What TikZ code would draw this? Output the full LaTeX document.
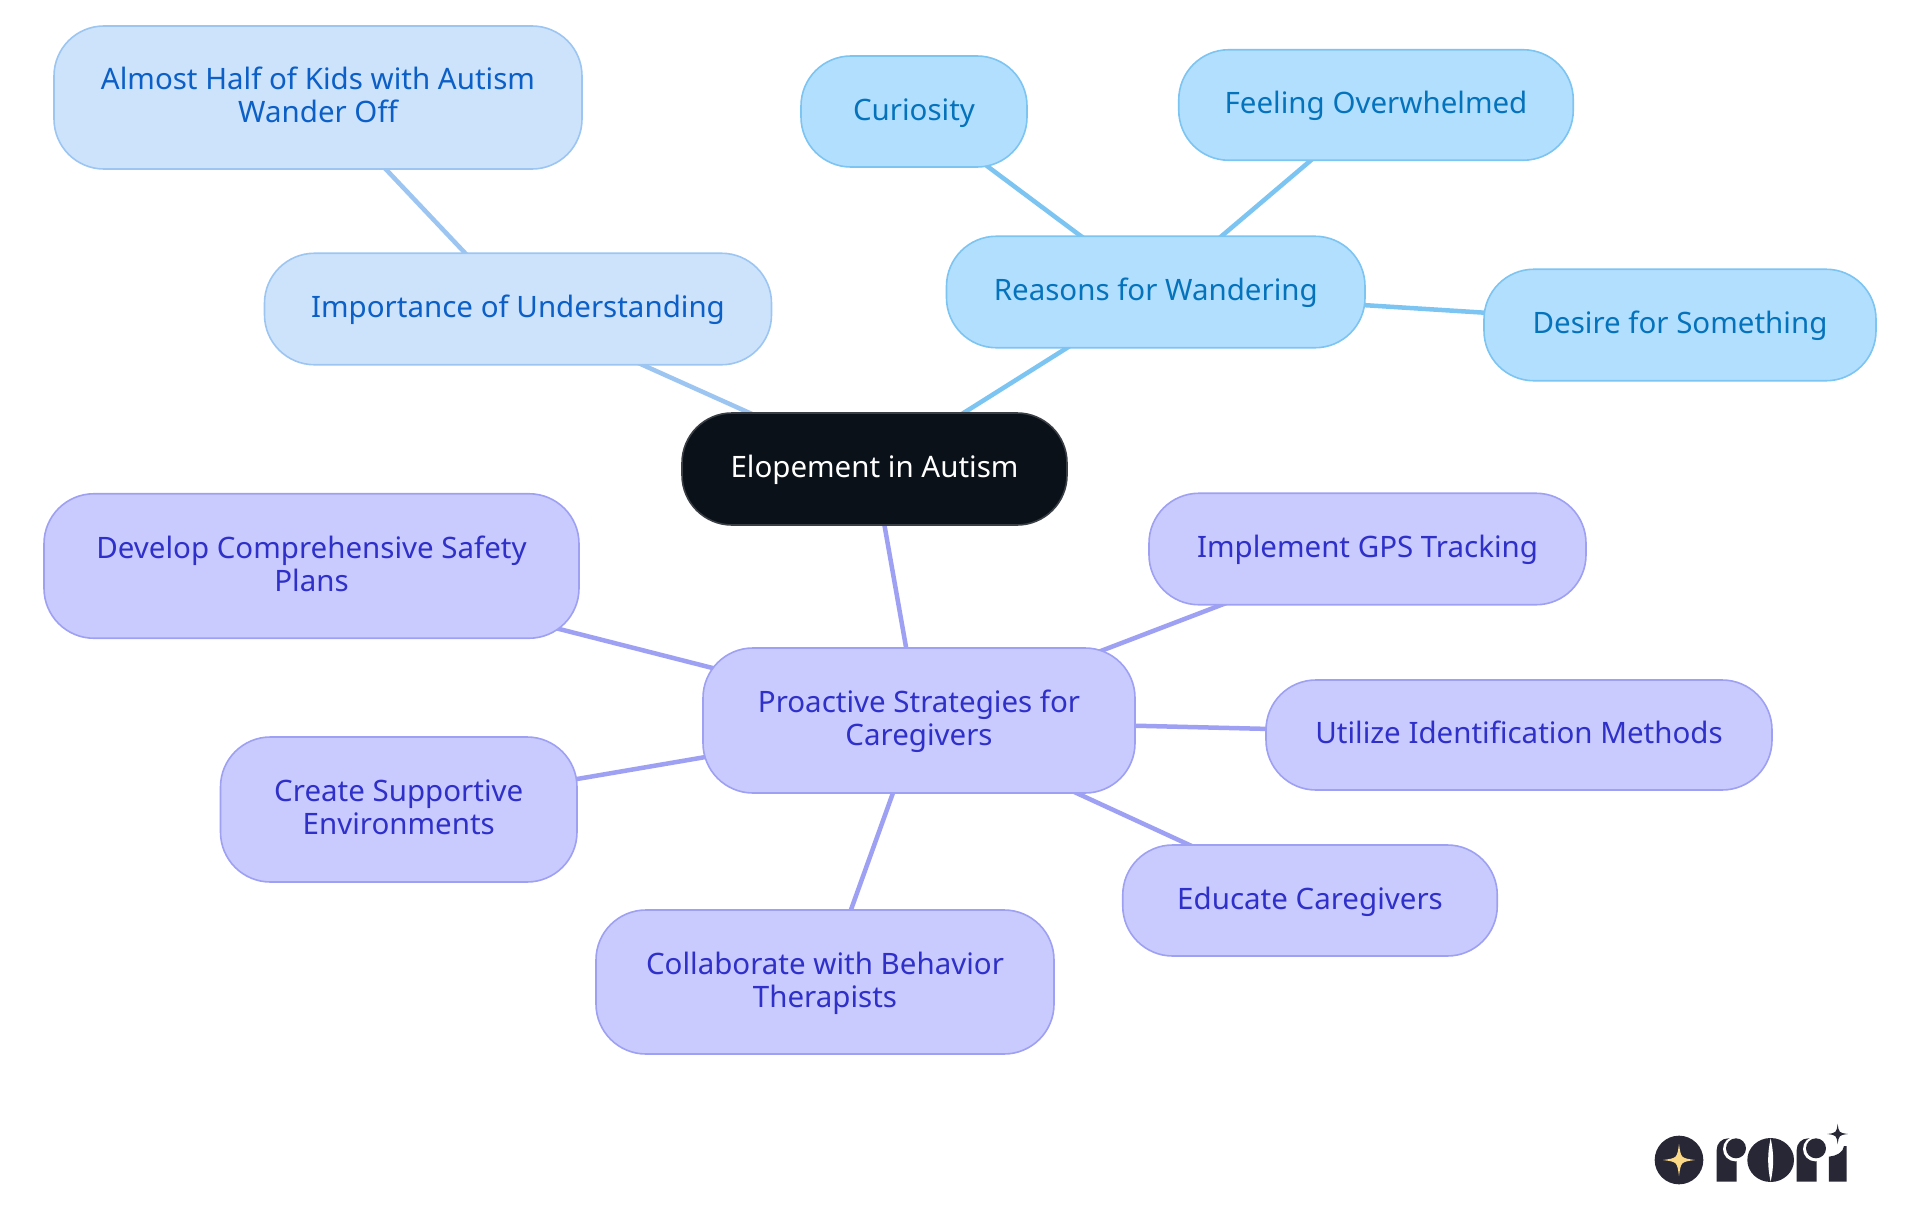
\documentclass[tikz,border=0pt]{standalone}
\usepackage{fontspec}
\setmainfont{Noto Sans}
\usetikzlibrary{backgrounds}
\definecolor{lbfill}{HTML}{CDE3FC}\definecolor{lbline}{HTML}{9CC5F2}\definecolor{lbtext}{HTML}{0B5FC6}
\definecolor{skfill}{HTML}{B3DFFF}\definecolor{skline}{HTML}{7CC4F2}\definecolor{sktext}{HTML}{0573BC}
\definecolor{vifill}{HTML}{C9CAFD}\definecolor{viline}{HTML}{9DA0F3}\definecolor{vitext}{HTML}{2E30C9}
\definecolor{rootfill}{HTML}{0B1119}\definecolor{rootline}{HTML}{3A3F46}
\definecolor{logodark}{HTML}{282736}\definecolor{logogold}{HTML}{FBD986}
\tikzset{
  pill/.style={rounded corners=50pt,line width=1.6pt,inner sep=0pt,
    font=\fontsize{29.5}{33}\selectfont},
  lb/.style={pill,draw=lbline,fill=lbfill,text=lbtext},
  sk/.style={pill,draw=skline,fill=skfill,text=sktext},
  vi/.style={pill,draw=viline,fill=vifill,text=vitext},
  root/.style={pill,draw=rootline,fill=rootfill,text=white},
  lbedge/.style={draw=lbline,line width=4.5pt},
  skedge/.style={draw=skline,line width=4.5pt},
  viedge/.style={draw=viline,line width=4.5pt},
}
% baselines measured on the reference: one line 8.5 below the centre, two lines 8 above
\newcommand{\oneline}[1]{\raisebox{-8.5pt}[0pt][0pt]{#1}}
\newcommand{\twolines}[2]{\raisebox{8pt}[0pt][0pt]{\begin{tabular}[t]{@{}c@{}}#1\\#2\end{tabular}}}
\newcommand{\fourstar}[3]{% cx cy r
  ({#1},{#2-#3}) .. controls ({#1+0.12*#3},{#2-0.12*#3}) .. ({#1+#3},{#2})
  .. controls ({#1+0.12*#3},{#2+0.12*#3}) .. ({#1},{#2+#3})
  .. controls ({#1-0.12*#3},{#2+0.12*#3}) .. ({#1-#3},{#2})
  .. controls ({#1-0.12*#3},{#2-0.12*#3}) .. cycle}
\newcommand{\logor}[1]{%
  \fill[logodark] (#1+290,245) -- (#1+290,150) .. controls (#1+290,130) and (#1+305,115) .. (#1+325,115) -- (#1+350,115) -- (#1+350,245) -- cycle;
  \fill[white] (#1+346,147) circle[radius=37];
  \fill[logodark] (#1+348,145) circle[radius=30];
}
\begin{document}
\begin{tikzpicture}[x=1pt,y=-1pt]
\useasboundingbox (0,0) rectangle (1920,1215);
\node[root,minimum width=385pt,minimum height=112pt] (elope) at (874.5,469) {\oneline{Elopement in Autism}};
\node[lb,minimum width=507pt,minimum height=111.5pt] (imp) at (518,309) {\oneline{Importance of Understanding}};
\node[lb,minimum width=528pt,minimum height=143pt] (half) at (318,97.5) {\twolines{Almost Half of Kids with Autism}{Wander Off}};
\node[sk,minimum width=418.5pt,minimum height=111.5pt] (reasons) at (1155.75,292) {\oneline{Reasons for Wandering}};
\node[sk,minimum width=226pt,minimum height=111pt] (cur) at (914,111.5) {\oneline{Curiosity}};
\node[sk,minimum width=394.5pt,minimum height=110.5pt] (over) at (1376,105) {\oneline{Feeling Overwhelmed}};
\node[sk,minimum width=392pt,minimum height=111.5pt] (desire) at (1680,325) {\oneline{Desire for Something}};
\node[vi,minimum width=432pt,minimum height=145pt] (pro) at (919,720.5) {\twolines{Proactive Strategies for}{Caregivers}};
\node[vi,minimum width=535pt,minimum height=144.5pt] (plan) at (311.5,566) {\twolines{Develop Comprehensive Safety}{Plans}};
\node[vi,minimum width=437pt,minimum height=111.5pt] (gps) at (1367.5,549) {\oneline{Implement GPS Tracking}};
\node[vi,minimum width=506pt,minimum height=110pt] (idm) at (1519,735) {\oneline{Utilize Identification Methods}};
\node[vi,minimum width=356.5pt,minimum height=145pt] (env) at (398.75,809.5) {\twolines{Create Supportive}{Environments}};
\node[vi,minimum width=374.5pt,minimum height=111pt] (edu) at (1310,900.5) {\oneline{Educate Caregivers}};
\node[vi,minimum width=458pt,minimum height=144pt] (col) at (825,982) {\twolines{Collaborate with Behavior}{Therapists}};
\begin{scope}[on background layer]
\fill[white] (0,0) rectangle (1920,1215);
\draw[lbedge] (elope.center) -- (imp.center);
\draw[lbedge] (imp.center) -- (half.center);
\draw[skedge] (elope.center) -- (reasons.center);
\draw[skedge] (reasons.center) -- (cur.center);
\draw[skedge] (reasons.center) -- (over.center);
\draw[skedge] (reasons.center) -- (desire.center);
\draw[viedge] (elope.center) -- (pro.center);
\draw[viedge] (pro.center) -- (plan.center);
\draw[viedge] (pro.center) -- (gps.center);
\draw[viedge] (pro.center) -- (idm.center);
\draw[viedge] (pro.center) -- (env.center);
\draw[viedge] (pro.center) -- (edu.center);
\draw[viedge] (pro.center) -- (col.center);
\end{scope}
% logo
\begin{scope}[shift={(1620,1100)},x=0.3333pt,y=-0.3333pt]
\fill[logodark] (177,180) circle[radius=73];
\fill[logogold] \fourstar{177}{180}{48};
\logor{0}
\fill[logodark] (452,180) ellipse[x radius=70,y radius=66];
\fill[white] (452,115) .. controls (462,160) and (462,200) .. (452,245) .. controls (442,200) and (442,160) .. (452,115) -- cycle;
\logor{240}
\fill[logodark] (627,245) -- (627,170) .. controls (648,168) and (670,158) .. (672,138) -- (680,138) -- (680,245) -- cycle;
\fill[logodark] \fourstar{653}{102}{31};
\end{scope}
\end{tikzpicture}
\end{document}
